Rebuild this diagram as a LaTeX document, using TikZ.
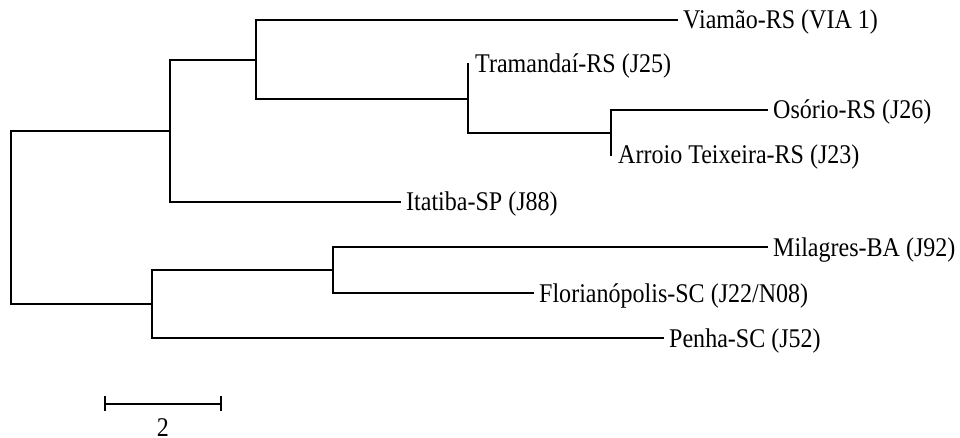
\documentclass[tikz,border=0pt]{standalone}
\usepackage{fontspec}
\setmainfont{Liberation Serif}[FakeStretch=0.89]
\begin{document}
\begin{tikzpicture}[x=1pt,y=-1pt,
  branch/.style={line width=1.9pt, line cap=rect},
  lbl/.style={inner sep=0pt, text height=18pt, text depth=0pt, font=\fontsize{27}{30}\selectfont},
  taxon/.style={lbl, anchor=west, inner xsep=6pt}]
\useasboundingbox (0,0) rectangle (960,438);

% internal nodes of the tree
\coordinate (root) at (11,217);
\coordinate (nU) at (170,131);
\coordinate (nA) at (256,60);
\coordinate (nB) at (468,99);
\coordinate (nC) at (611,133);
\coordinate (nD) at (152,304);
\coordinate (nE) at (333,270);

% tips
\node[taxon] (viamao) at (677,20) {Viamão-RS (VIA 1)};
\node[taxon, inner xsep=7pt] (tram) at (468,64) {Tramandaí-RS (J25)};
\node[taxon] (osorio) at (767,110) {Osório-RS (J26)};
\node[taxon, inner xsep=7pt] (arroio) at (611,155) {Arroio Teixeira-RS (J23)};
\node[taxon] (itatiba) at (400,202) {Itatiba-SP (J88)};
\node[taxon] (milagres) at (767,247) {Milagres-BA (J92)};
\node[taxon] (floripa) at (533,293) {Florianópolis-SC (J22/N08)};
\node[taxon] (penha) at (663,338) {Penha-SC (J52)};

% root split
\draw[branch] (root) |- (nU);
\draw[branch] (root) |- (nD);
% upper clade
\draw[branch] (nU) |- (nA);
\draw[branch] (nU) |- (itatiba.west);
\draw[branch] (nA) |- (viamao.west);
\draw[branch] (nA) |- (nB);
\draw[branch] (nB) -- (nB |- tram.west);
\draw[branch] (nB) |- (nC);
\draw[branch] (nC) |- (osorio.west);
\draw[branch] (nC) -- (nC |- arroio.west);
% lower clade
\draw[branch] (nD) |- (nE);
\draw[branch] (nD) |- (penha.west);
\draw[branch] (nE) |- (milagres.west);
\draw[branch] (nE) |- (floripa.west);

% scale bar
\coordinate (sbL) at (105,404);
\coordinate (sbR) at (221,404);
\draw[line width=1.6pt] (sbL) -- (sbR);
\draw[line width=1.6pt] ([yshift=-7]sbL) -- ([yshift=8]sbL);
\draw[line width=1.6pt] ([yshift=-7]sbR) -- ([yshift=8]sbR);
\node[lbl] (sblabel) at (163,427) {2};
\end{tikzpicture}
\end{document}
